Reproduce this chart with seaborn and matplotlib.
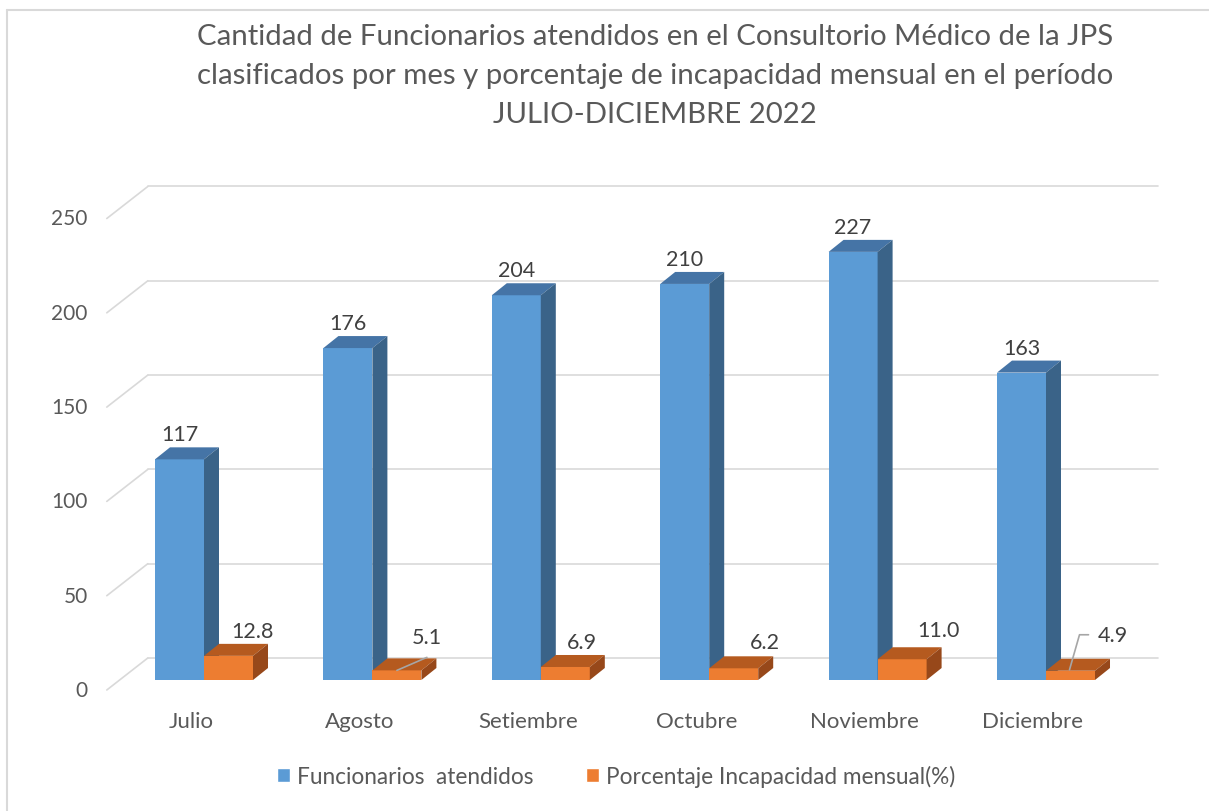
import matplotlib
matplotlib.use('Agg')

import numpy as np
import pandas as pd
import seaborn as sns
import matplotlib.pyplot as plt
from matplotlib.patches import Polygon, Rectangle
from matplotlib.lines import Line2D
from matplotlib.transforms import offset_copy

meses = ['Julio', 'Agosto', 'Setiembre', 'Octubre', 'Noviembre', 'Diciembre']
funcionarios = [117, 176, 204, 210, 227, 163]
incapacidad = [12.8, 5.1, 6.9, 6.2, 11.0, 4.9]
series = ['Funcionarios  atendidos', 'Porcentaje Incapacidad mensual(%)']
yticks = [0, 50, 100, 150, 200, 250]

titulo = ('Cantidad de Funcionarios atendidos en el Consultorio Médico de la JPS\n'
          'clasificados por mes y porcentaje de incapacidad mensual en el período\n'
          'JULIO-DICIEMBRE 2022')

frente = ['#5b9bd5', '#ed7d31']
techo = ['#4574a6', '#b55a1f']
lado = ['#3a6388', '#97481a']
gris = '#d9d9d9'
texto = '#595959'

# posicion (px) de las etiquetas de porcentaje respecto al tope de su barra
off_pct = [(24, 25), (30, 33), (17, 25), (31, 26), (36, 29), (42, 36)]
prof = np.array([15, 12])      # profundidad de cada barra (px)
fondo = (28, 22)               # pared del fondo respecto al plano de barras
delante = (-13, -10)           # borde frontal del piso

sns.set_theme(style='white')
plt.rcParams['font.family'] = ['Lato', 'DejaVu Sans']

df = pd.DataFrame({
    'Mes': meses * 2,
    'Serie': [series[0]] * len(meses) + [series[1]] * len(meses),
    'Valor': funcionarios + incapacidad,
})

fig = plt.figure(figsize=(12.09, 8.12), dpi=100)
ax = fig.add_axes([119.8 / 1209, 131 / 812, 1010.4 / 1209, 471.5 / 812])
sns.barplot(data=df, x='Mes', y='Valor', hue='Serie', order=meses, hue_order=series,
            palette=frente, saturation=1, width=0.582, ax=ax)
ax.set_xlim(-0.5, 5.5)
ax.set_ylim(0, 250)
ax.set_xticks([])
ax.set_yticks([])
ax.set_xlabel('')
ax.set_ylabel('')
sns.despine(ax=ax, left=True, bottom=True)
handles, labels = ax.get_legend_handles_labels()
ax.get_legend().remove()

to_px = ax.transData.transform
to_data = ax.transData.inverted().transform


def desplazado(dx, dy):
    return offset_copy(ax.transData, fig=fig, x=dx, y=dy, units='dots')


# pared del fondo y piso
x_izq, x_der = ax.get_xlim()
for v in yticks:
    ax.plot([x_izq, x_der], [v, v], color=gris, lw=1.2, transform=desplazado(*fondo),
            zorder=0.5, clip_on=False)
    base = to_px((x_izq, v))
    diag = to_data([base + np.array(delante), base + np.array(fondo)])
    ax.plot(diag[:, 0], diag[:, 1], color=gris, lw=1.2, zorder=0.5, clip_on=False)
    ax.text(x_izq, v, str(v), transform=desplazado(delante[0] - 19, delante[1]),
            ha='right', va='center', fontsize=15, color=texto)

for i, mes in enumerate(meses):
    ax.text(i, 0, mes, transform=desplazado(delante[0], delante[1] - 31),
            ha='center', va='center', fontsize=16, color=texto)

# caras superior y lateral de las barras
barras = [p for p in ax.patches if isinstance(p, Rectangle) and p.get_width() > 0]
for j, p in enumerate(barras):
    s = 0 if j < len(meses) else 1
    z = 2 + s
    p.set_zorder(z)
    p.set_edgecolor('none')
    x0, w, h = p.get_x(), p.get_width(), p.get_height()
    a = to_px([(x0, h), (x0 + w, h), (x0 + w, 0)])
    sup = [a[0], a[1], a[1] + prof, a[0] + prof]
    lat = [a[2], a[1], a[1] + prof, a[2] + prof]
    ax.add_patch(Polygon(to_data(sup), closed=True, fc=techo[s], ec='none', zorder=z + 0.1, clip_on=False))
    ax.add_patch(Polygon(to_data(lat), closed=True, fc=lado[s], ec='none', zorder=z + 0.1, clip_on=False))

azules = barras[:len(meses)]
naranjas = barras[len(meses):]

for p, v in zip(azules, funcionarios):
    ax.text(p.get_x() + p.get_width() / 2, p.get_height(), str(v), transform=desplazado(0, 25),
            ha='center', va='center', fontsize=15.5, color='#404040', zorder=5)

for k, (p, v) in enumerate(zip(naranjas, incapacidad)):
    cx = p.get_x() + p.get_width() / 2
    dx, dy = off_pct[k]
    ax.text(cx, p.get_height(), f'{v:.1f}', transform=desplazado(dx, dy),
            ha='center', va='center', fontsize=15.5, color='#404040', zorder=5)

# lineas guia de las etiquetas pequenas
guias = {1: [(0, 0), (30, 13)], 5: [(-1, 1), (9, 36), (18, 36)]}
for k, pts in guias.items():
    p = naranjas[k]
    t = to_px((p.get_x() + p.get_width() / 2, p.get_height()))
    linea = to_data([t + np.array(q) for q in pts])
    ax.plot(linea[:, 0], linea[:, 1], color='#a6a6a6', lw=1.2, zorder=6, clip_on=False)

fig.text(655 / 1209, 1 - 76 / 812, titulo, ha='center', va='center', fontsize=21.2,
         color=texto, linespacing=1.6)

fig.legend(handles, labels, loc='center', bbox_to_anchor=(616 / 1209, 1 - 777 / 812),
           ncol=2, frameon=False, fontsize=16.3, handlelength=0.6, handleheight=0.6,
           handletextpad=0.3, columnspacing=2.3, labelcolor=texto)

fig.add_artist(Line2D([7 / 1209, 7 / 1209], [0, 1 - 11 / 812], transform=fig.transFigure,
                      color=gris, lw=1.5))
fig.add_artist(Line2D([7 / 1209, 1], [1 - 11 / 812, 1 - 11 / 812], transform=fig.transFigure,
                      color=gris, lw=1.5))

fig.savefig('out.png', dpi=100)
plt.close(fig)
